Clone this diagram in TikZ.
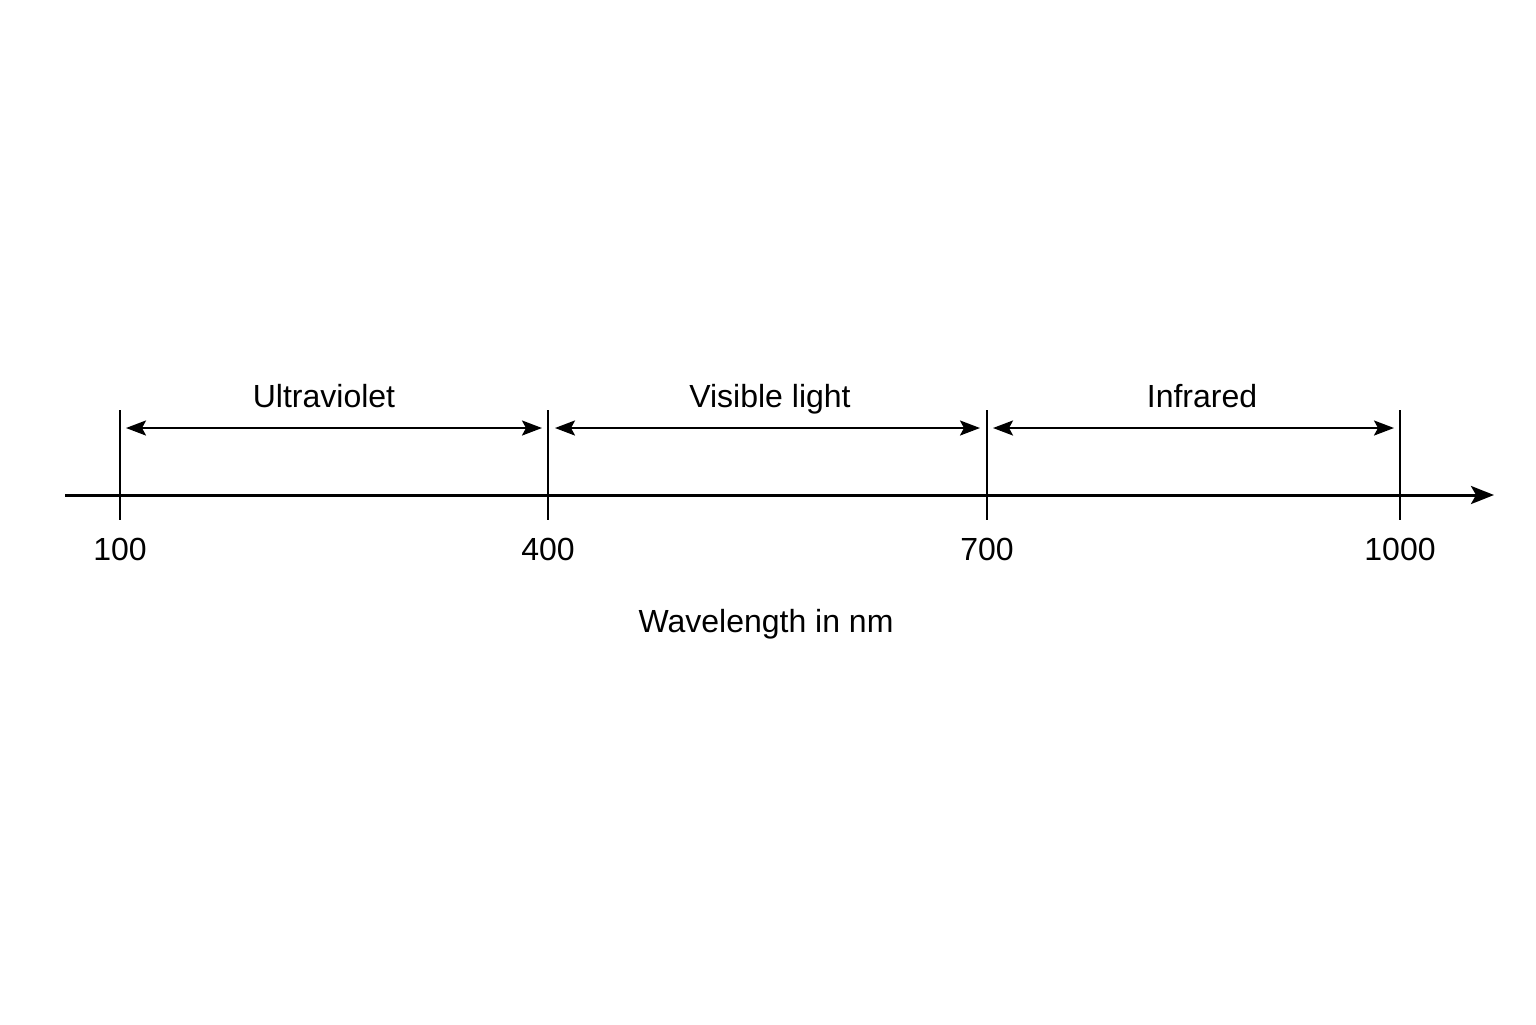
\documentclass[tikz,border=0pt]{standalone}
\usepackage{fontspec}
\setmainfont{Liberation Sans}
\usetikzlibrary{arrows.meta}
\begin{document}
\begin{tikzpicture}[x=0.5pt,y=-0.5pt,
  axisline/.style={line width=1.5pt,-{Stealth[length=11.5pt,width=9pt,inset=2.5pt]}},
  tickline/.style={line width=1.2pt},
  rangearrow/.style={line width=1.2pt,{Stealth[length=10pt,width=7.5pt,inset=2pt]}-{Stealth[length=10pt,width=7.5pt,inset=2pt]}},
  lbl/.style={font=\fontsize{16}{19}\selectfont,inner sep=0pt,anchor=base}]
\useasboundingbox (0,0) rectangle (1536,1024);
\coordinate (axstart) at (65,495);
\coordinate (axend) at (1494,495);
\draw[axisline] (axstart) -- (axend);
% ticks
\foreach \n/\x in {t1/120,t4/548,t7/987,t10/1400}{
  \coordinate (\n top) at (\x,410);
  \coordinate (\n bot) at (\x,520);
  \draw[tickline] (\n top) -- (\n bot);
}
% range arrows
\coordinate (a1) at (126,428); \coordinate (b1) at (542,428);
\coordinate (a2) at (555,428); \coordinate (b2) at (980,428);
\coordinate (a3) at (993,428); \coordinate (b3) at (1394,428);
\draw[rangearrow] (a1) -- (b1);
\draw[rangearrow] (a2) -- (b2);
\draw[rangearrow] (a3) -- (b3);
% labels
\node[lbl] (uv) at (324,407) {Ultraviolet};
\node[lbl] (vis) at (770,407) {Visible light};
\node[lbl] (ir) at (1202,407) {Infrared};
\node[lbl] (n100) at (120,560) {100};
\node[lbl] (n400) at (548,560) {400};
\node[lbl] (n700) at (987,560) {700};
\node[lbl] (n1000) at (1400,560) {1000};
\node[lbl] (wl) at (766,632) {Wavelength in nm};
\end{tikzpicture}
\end{document}
